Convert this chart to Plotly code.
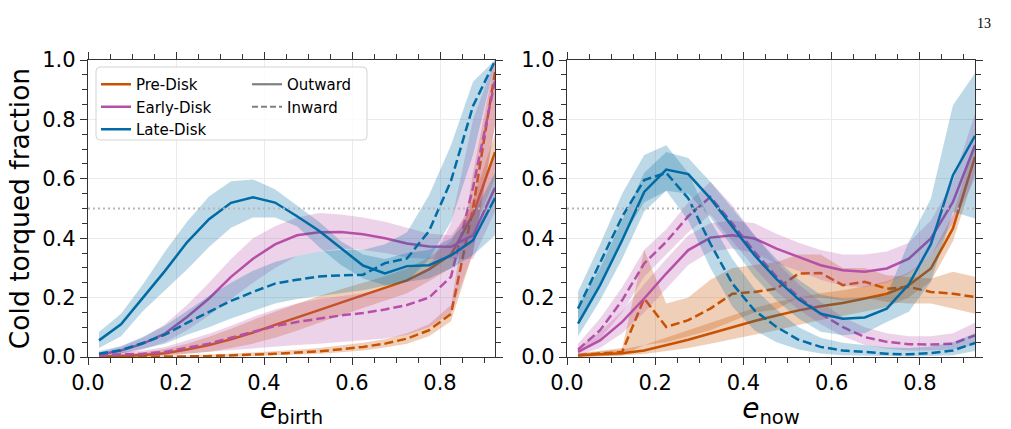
import plotly.graph_objects as go

# ---------------- data ----------------
E_BINS = [0.025, 0.075, 0.125, 0.175, 0.225, 0.275, 0.325, 0.375, 0.425, 0.475,
          0.525, 0.575, 0.625, 0.675, 0.725, 0.775, 0.825, 0.875, 0.925]
THRESHOLD = 0.5
X_TICKS = [0.0, 0.2, 0.4, 0.6, 0.8]
Y_TICKS = [0.0, 0.2, 0.4, 0.6, 0.8, 1.0]

# ---- left panel: e_birth ----
pre_out_birth = [0.002, 0.003, 0.007, 0.013, 0.025, 0.04, 0.06, 0.082, 0.108, 0.132,
                 0.158, 0.183, 0.208, 0.232, 0.258, 0.295, 0.345, 0.48, 0.69]
pre_out_birth_lo = [0.0, 0.0, 0.001, 0.004, 0.01, 0.018, 0.03, 0.045, 0.065, 0.088,
                    0.115, 0.14, 0.165, 0.19, 0.215, 0.255, 0.3, 0.42, 0.6]
pre_out_birth_hi = [0.006, 0.009, 0.016, 0.027, 0.045, 0.068, 0.095, 0.125, 0.152, 0.178,
                    0.205, 0.228, 0.25, 0.272, 0.298, 0.335, 0.39, 0.53, 0.75]

pre_in_birth = [0.0, 0.0, 0.0, 0.001, 0.002, 0.003, 0.005, 0.008, 0.011, 0.015,
                0.019, 0.026, 0.034, 0.045, 0.062, 0.09, 0.145, 0.5, 0.96]
pre_in_birth_lo = [0.0, 0.0, 0.0, 0.0, 0.0, 0.0, 0.001, 0.003, 0.005, 0.008,
                   0.011, 0.016, 0.022, 0.032, 0.045, 0.07, 0.12, 0.35, 0.78]
pre_in_birth_hi = [0.002, 0.002, 0.003, 0.004, 0.006, 0.008, 0.011, 0.015, 0.019, 0.024,
                   0.03, 0.038, 0.048, 0.06, 0.08, 0.11, 0.175, 0.62, 1.0]

early_out_birth = [0.008, 0.022, 0.045, 0.079, 0.135, 0.197, 0.27, 0.331, 0.379, 0.41,
                   0.42, 0.421, 0.413, 0.4, 0.382, 0.372, 0.371, 0.41, 0.57]
early_out_birth_lo = [0.003, 0.01, 0.025, 0.05, 0.09, 0.14, 0.195, 0.25, 0.3, 0.34,
                      0.355, 0.365, 0.36, 0.35, 0.335, 0.33, 0.33, 0.33, 0.49]
early_out_birth_hi = [0.014, 0.035, 0.065, 0.11, 0.175, 0.25, 0.33, 0.4, 0.44, 0.47,
                      0.485, 0.48, 0.47, 0.455, 0.435, 0.415, 0.41, 0.5, 0.68]

early_in_birth = [0.006, 0.008, 0.011, 0.017, 0.03, 0.045, 0.065, 0.084, 0.104, 0.118,
                  0.13, 0.14, 0.148, 0.16, 0.175, 0.2, 0.27, 0.57, 0.93]
early_in_birth_lo = [0.002, 0.003, 0.004, 0.006, 0.012, 0.018, 0.024, 0.03, 0.035, 0.04,
                     0.045, 0.05, 0.055, 0.062, 0.075, 0.1, 0.15, 0.35, 0.78]
early_in_birth_hi = [0.012, 0.016, 0.022, 0.034, 0.055, 0.078, 0.105, 0.135, 0.16, 0.18,
                     0.195, 0.205, 0.215, 0.23, 0.255, 0.3, 0.45, 0.8, 1.0]

late_out_birth = [0.056, 0.11, 0.2, 0.29, 0.386, 0.464, 0.519, 0.538, 0.52, 0.474,
                  0.425, 0.365, 0.308, 0.281, 0.306, 0.309, 0.342, 0.393, 0.535]
late_out_birth_lo = [0.03, 0.07, 0.155, 0.225, 0.295, 0.37, 0.435, 0.47, 0.47, 0.44,
                     0.37, 0.31, 0.264, 0.242, 0.253, 0.264, 0.298, 0.343, 0.41]
late_out_birth_hi = [0.084, 0.146, 0.245, 0.355, 0.455, 0.54, 0.592, 0.598, 0.565, 0.51,
                     0.455, 0.39, 0.345, 0.33, 0.35, 0.36, 0.4, 0.478, 0.62]

late_in_birth = [0.011, 0.023, 0.047, 0.075, 0.115, 0.152, 0.189, 0.219, 0.247, 0.26,
                 0.271, 0.275, 0.277, 0.316, 0.332, 0.424, 0.593, 0.845, 0.997]
late_in_birth_lo = [0.005, 0.012, 0.028, 0.045, 0.075, 0.1, 0.13, 0.155, 0.18, 0.195,
                    0.205, 0.215, 0.225, 0.24, 0.253, 0.33, 0.455, 0.68, 0.99]
late_in_birth_hi = [0.02, 0.036, 0.068, 0.105, 0.155, 0.205, 0.25, 0.29, 0.32, 0.34,
                    0.355, 0.36, 0.36, 0.38, 0.42, 0.545, 0.713, 0.927, 1.0]

# ---- right panel: e_now ----
pre_out_now = [0.006, 0.009, 0.013, 0.022, 0.039, 0.058, 0.079, 0.101, 0.121, 0.14,
               0.157, 0.171, 0.182, 0.197, 0.213, 0.242, 0.298, 0.433, 0.674]
pre_out_now_lo = [0.0, 0.002, 0.005, 0.01, 0.02, 0.03, 0.045, 0.06, 0.075, 0.09,
                  0.108, 0.125, 0.138, 0.152, 0.168, 0.2, 0.255, 0.39, 0.62]
pre_out_now_hi = [0.012, 0.018, 0.025, 0.04, 0.065, 0.09, 0.115, 0.14, 0.165, 0.185,
                  0.2, 0.215, 0.225, 0.238, 0.255, 0.285, 0.34, 0.48, 0.72]

pre_in_now = [0.006, 0.011, 0.017, 0.197, 0.101, 0.124, 0.163, 0.213, 0.219, 0.23,
              0.281, 0.283, 0.242, 0.253, 0.23, 0.236, 0.219, 0.213, 0.202]
pre_in_now_lo = [0.0, 0.003, 0.005, 0.04, 0.05, 0.07, 0.09, 0.12, 0.15, 0.16,
                 0.2, 0.2, 0.19, 0.2, 0.185, 0.18, 0.18, 0.163, 0.146]
pre_in_now_hi = [0.012, 0.02, 0.03, 0.36, 0.18, 0.2, 0.26, 0.3, 0.31, 0.32,
                 0.345, 0.345, 0.3, 0.3, 0.275, 0.27, 0.264, 0.287, 0.27]

early_out_now = [0.017, 0.056, 0.118, 0.197, 0.281, 0.36, 0.402, 0.41, 0.399, 0.365,
                 0.337, 0.309, 0.292, 0.287, 0.298, 0.331, 0.399, 0.522, 0.713]
early_out_now_lo = [0.005, 0.03, 0.08, 0.15, 0.23, 0.31, 0.355, 0.365, 0.35, 0.315,
                    0.29, 0.26, 0.24, 0.235, 0.25, 0.28, 0.34, 0.45, 0.6]
early_out_now_hi = [0.03, 0.085, 0.155, 0.245, 0.33, 0.41, 0.45, 0.46, 0.45, 0.415,
                    0.385, 0.36, 0.345, 0.345, 0.355, 0.385, 0.46, 0.59, 0.82]

early_in_now = [0.025, 0.09, 0.191, 0.315, 0.388, 0.474, 0.539, 0.449, 0.354, 0.27,
                0.202, 0.146, 0.101, 0.067, 0.051, 0.043, 0.042, 0.045, 0.073]
early_in_now_lo = [0.01, 0.06, 0.15, 0.27, 0.345, 0.42, 0.48, 0.39, 0.3, 0.22,
                   0.16, 0.11, 0.07, 0.04, 0.028, 0.022, 0.022, 0.025, 0.04]
early_in_now_hi = [0.045, 0.13, 0.235, 0.36, 0.43, 0.52, 0.59, 0.51, 0.41, 0.32,
                   0.245, 0.185, 0.135, 0.1, 0.08, 0.07, 0.07, 0.08, 0.115]

late_out_now = [0.112, 0.242, 0.393, 0.556, 0.631, 0.616, 0.534, 0.438, 0.343, 0.262,
                0.194, 0.146, 0.129, 0.133, 0.163, 0.245, 0.38, 0.612, 0.745]
late_out_now_lo = [0.07, 0.19, 0.33, 0.49, 0.56, 0.55, 0.47, 0.37, 0.27, 0.19,
                   0.13, 0.085, 0.073, 0.08, 0.118, 0.152, 0.253, 0.489, 0.466]
late_out_now_hi = [0.17, 0.3, 0.46, 0.62, 0.69, 0.67, 0.59, 0.5, 0.41, 0.33,
                   0.26, 0.21, 0.197, 0.2, 0.208, 0.388, 0.534, 0.848, 0.955]

late_in_now = [0.163, 0.315, 0.472, 0.596, 0.62, 0.534, 0.382, 0.247, 0.157, 0.101,
               0.058, 0.034, 0.022, 0.017, 0.011, 0.009, 0.013, 0.022, 0.047]
late_in_now_lo = [0.11, 0.25, 0.4, 0.52, 0.56, 0.46, 0.3, 0.17, 0.09, 0.05,
                  0.025, 0.012, 0.006, 0.004, 0.002, 0.002, 0.003, 0.006, 0.02]
late_in_now_hi = [0.22, 0.38, 0.55, 0.68, 0.713, 0.62, 0.46, 0.33, 0.23, 0.16,
                  0.1, 0.065, 0.048, 0.04, 0.032, 0.03, 0.035, 0.05, 0.08]

GROUPS = ["Pre-Disk", "Early-Disk", "Late-Disk"]
COLORS = {"Pre-Disk": "#C85200", "Early-Disk": "#B64FA8", "Late-Disk": "#006BA4"}
FILLS = {"Pre-Disk": "rgba(200,82,0,0.28)", "Early-Disk": "rgba(182,79,168,0.25)",
         "Late-Disk": "rgba(0,107,164,0.26)"}

panels = {
    "birth": {
        "Pre-Disk": [(pre_out_birth, pre_out_birth_lo, pre_out_birth_hi, "solid"),
                     (pre_in_birth, pre_in_birth_lo, pre_in_birth_hi, "dash")],
        "Early-Disk": [(early_out_birth, early_out_birth_lo, early_out_birth_hi, "solid"),
                       (early_in_birth, early_in_birth_lo, early_in_birth_hi, "dash")],
        "Late-Disk": [(late_out_birth, late_out_birth_lo, late_out_birth_hi, "solid"),
                      (late_in_birth, late_in_birth_lo, late_in_birth_hi, "dash")],
    },
    "now": {
        "Pre-Disk": [(pre_out_now, pre_out_now_lo, pre_out_now_hi, "solid"),
                     (pre_in_now, pre_in_now_lo, pre_in_now_hi, "dash")],
        "Early-Disk": [(early_out_now, early_out_now_lo, early_out_now_hi, "solid"),
                       (early_in_now, early_in_now_lo, early_in_now_hi, "dash")],
        "Late-Disk": [(late_out_now, late_out_now_lo, late_out_now_hi, "solid"),
                      (late_in_now, late_in_now_lo, late_in_now_hi, "dash")],
    },
}

# ---------------- figure ----------------
W, H = 1011, 429
ML, MR, MT, MB = 88, 36, 60, 72
PW = W - ML - MR
PH = H - MT - MB


def px_x(p):
    return (p - ML) / PW


def px_y(p):
    return (H - MB - p) / PH


FONT = "DejaVu Sans"
DASH = "9px,4px"
X_RANGE = [0, 0.925]
Y_RANGE = [0, 1]

fig = go.Figure()

for key, (xa, ya) in zip(["birth", "now"], [("x", "y"), ("x2", "y2")]):
    for g in GROUPS:
        for (mid, lo, hi, dash) in panels[key][g]:
            fig.add_trace(go.Scatter(x=E_BINS, y=lo, xaxis=xa, yaxis=ya, mode="lines",
                                     line=dict(width=0), hoverinfo="skip", showlegend=False))
            fig.add_trace(go.Scatter(x=E_BINS, y=hi, xaxis=xa, yaxis=ya, mode="lines",
                                     line=dict(width=0), fill="tonexty",
                                     fillcolor=FILLS[g], hoverinfo="skip", showlegend=False))
            fig.add_trace(go.Scatter(x=E_BINS, y=mid, xaxis=xa, yaxis=ya, mode="lines",
                                     line=dict(color=COLORS[g], width=2.5,
                                               dash=("solid" if dash == "solid" else DASH)),
                                     name=g, showlegend=False))

# legend entries
for g in GROUPS:
    fig.add_trace(go.Scatter(x=[None], y=[None], mode="lines", name=g,
                             line=dict(color=COLORS[g], width=2.5), legend="legend"))
fig.add_trace(go.Scatter(x=[None], y=[None], mode="lines", name="Outward",
                         line=dict(color="#808080", width=2.2), legend="legend2"))
fig.add_trace(go.Scatter(x=[None], y=[None], mode="lines", name="Inward",
                         line=dict(color="#808080", width=2.2, dash="6px,3px"), legend="legend2"))

# threshold lines
for xa, ya in [("x", "y"), ("x2", "y2")]:
    fig.add_shape(type="line", xref=xa, yref=ya, x0=X_RANGE[0], x1=X_RANGE[1],
                  y0=THRESHOLD, y1=THRESHOLD,
                  line=dict(color="#b8b8b8", width=2, dash="2px,3px"), layer="above")

AX_COLOR = "#333333"
GRID = "#ebebeb"
TICK_FONT = dict(family=FONT, size=21, color="black")
common_x = dict(range=X_RANGE, tickvals=X_TICKS, ticktext=[f"{v:.1f}" for v in X_TICKS],
                ticks="outside", ticklen=7, tickwidth=1.2, tickcolor=AX_COLOR,
                showline=True, linecolor=AX_COLOR, linewidth=1.3, mirror="ticks",
                showgrid=True, gridcolor=GRID, gridwidth=1, zeroline=False,
                tickfont=TICK_FONT,
                minor=dict(dtick=0.05, tick0=0, ticks="outside", ticklen=5, tickwidth=1,
                           tickcolor=AX_COLOR, showgrid=False))
common_y = dict(range=Y_RANGE, tickvals=Y_TICKS, ticktext=[f"{v:.1f}" for v in Y_TICKS],
                ticks="outside", ticklen=7, tickwidth=1.2, tickcolor=AX_COLOR,
                showline=True, linecolor=AX_COLOR, linewidth=1.3, mirror="ticks",
                showgrid=True, gridcolor=GRID, gridwidth=1, zeroline=False,
                tickfont=TICK_FONT,
                minor=dict(dtick=0.05, tick0=0, ticks="outside", ticklen=5, tickwidth=1,
                           tickcolor=AX_COLOR, showgrid=False))
# inner part of the major ticks (ticks cross the spines)
inner_x = dict(range=X_RANGE, tickvals=X_TICKS, ticks="inside", ticklen=4, tickwidth=1.2,
               tickcolor=AX_COLOR, showticklabels=False, showgrid=False, showline=False,
               zeroline=False, mirror="ticks")
inner_y = dict(range=Y_RANGE, tickvals=Y_TICKS, ticks="inside", ticklen=4, tickwidth=1.2,
               tickcolor=AX_COLOR, showticklabels=False, showgrid=False, showline=False,
               zeroline=False, mirror="ticks")

D1 = [0, px_x(495)]
D2 = [px_x(567), 1]

fig.update_layout(
    width=W, height=H,
    margin=dict(l=ML, r=MR, t=MT, b=MB),
    paper_bgcolor="white", plot_bgcolor="white",
    font=dict(family=FONT, color="black"),
    xaxis=dict(domain=D1, anchor="y",
               title=dict(text="<i>e</i><sub>birth</sub>", font=dict(size=28), standoff=2),
               **common_x),
    xaxis2=dict(domain=D2, anchor="y2",
                title=dict(text="<i>e</i><sub>now</sub>", font=dict(size=28), standoff=2),
                **common_x),
    yaxis=dict(domain=[0, 1], anchor="x",
               title=dict(text="Cold torqued fraction", font=dict(size=26.5), standoff=4),
               **common_y),
    yaxis2=dict(domain=[0, 1], anchor="x2", **common_y),
    xaxis3=dict(overlaying="x", anchor="y", **inner_x),
    xaxis4=dict(overlaying="x2", anchor="y2", **inner_x),
    yaxis3=dict(overlaying="y", anchor="x", **inner_y),
    yaxis4=dict(overlaying="y2", anchor="x2", **inner_y),
    legend=dict(x=px_x(96), y=px_y(68), xanchor="left", yanchor="top",
                traceorder="normal", bgcolor="rgba(0,0,0,0)", borderwidth=0,
                font=dict(family=FONT, size=15, color="black")),
    legend2=dict(x=px_x(247), y=px_y(68), xanchor="left", yanchor="top",
                 traceorder="normal", bgcolor="rgba(0,0,0,0)", borderwidth=0,
                 font=dict(family=FONT, size=15, color="black")),
    showlegend=True,
)

# legend frame (rounded rectangle) behind the legend entries
x0, x1 = px_x(96), px_x(367)
y0, y1 = px_y(140), px_y(67)
rx, ry = 4 / PW, 4 / PH
path = (f"M {x0+rx},{y0} L {x1-rx},{y0} Q {x1},{y0} {x1},{y0+ry} "
        f"L {x1},{y1-ry} Q {x1},{y1} {x1-rx},{y1} L {x0+rx},{y1} Q {x0},{y1} {x0},{y1-ry} "
        f"L {x0},{y0+ry} Q {x0},{y0} {x0+rx},{y0} Z")
fig.add_shape(type="path", path=path, xref="paper", yref="paper",
              line=dict(color="#d4d4d4", width=1), fillcolor="rgba(255,255,255,0.85)",
              layer="above")

# page number
fig.add_annotation(text="13", xref="paper", yref="paper", x=px_x(993), y=px_y(14),
                   showarrow=False, font=dict(family="Liberation Serif", size=14, color="black"))

fig.write_html("out.html")
